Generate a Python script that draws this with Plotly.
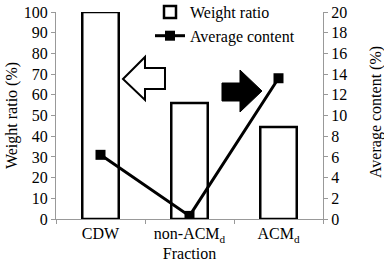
import plotly.graph_objects as go

categories = ["CDW", "non-ACM<sub>d</sub>", "ACM<sub>d</sub>"]
weight_ratio = [100, 56, 44.5]
average_content = [6.2, 0.3, 13.6]

FONT = "Liberation Serif, Times New Roman, serif"
FS = 16
W, H = 384, 264
L, R, T, B = 56, 61, 12, 45
PW, PH = W - L - R, H - T - B

def px(x, y):
    return (x - L) / PW, (H - B - y) / PH

def path(points):
    s = ""
    for i, (x, y) in enumerate(points):
        u, v = px(x, y)
        s += ("M" if i == 0 else "L") + f"{u:.4f},{v:.4f} "
    return s + "Z"

hollow = [(123, 79), (145, 57), (145, 68), (165, 68), (165, 89), (145, 89), (145, 100)]
solid = [(222, 83), (240, 83), (240, 70), (262, 91), (240, 112), (240, 101), (222, 101)]

fig = go.Figure()
fig.add_trace(go.Bar(
    x=categories, y=weight_ratio, name="Weight ratio", width=0.41,
    marker=dict(color="white", line=dict(color="black", width=2.5)),
    legendgroup="a",
))
fig.add_trace(go.Scatter(
    x=categories, y=average_content, name="Average content", yaxis="y2",
    mode="lines+markers", line=dict(color="black", width=3),
    marker=dict(symbol="square", size=10, color="black"),
    legendgroup="b",
))

axis_common = dict(showline=True, linecolor="#999999", linewidth=1, ticks="outside",
                   tickcolor="#999999", ticklen=4, showgrid=False, zeroline=False,
                   automargin=False,
                   tickfont=dict(family=FONT, size=FS, color="black"))

fig.update_layout(
    width=W, height=H, margin=dict(l=L, r=R, t=T, b=B, autoexpand=False),
    paper_bgcolor="white", plot_bgcolor="white",
    font=dict(family=FONT, size=FS, color="black"),
    xaxis=dict(axis_common, range=[-0.5, 2.5], tickson="boundaries",
               title=dict(text="Fraction", standoff=0, font=dict(family=FONT, size=FS))),
    yaxis=dict(axis_common, range=[0, 100], dtick=10,
               title=dict(text="Weight ratio (%)", standoff=2, font=dict(family=FONT, size=FS))),
    yaxis2=dict(axis_common, range=[0, 20], dtick=2, overlaying="y", side="right"),
    annotations=[
        dict(text="Average content (%)", xref="paper", yref="paper",
             x=px(376, 0)[0], y=px(0, 112)[1], textangle=-90, showarrow=False,
             xanchor="center", yanchor="middle", font=dict(family=FONT, size=FS)),
    ],
    showlegend=True,
    legend=dict(x=px(150, 0)[0], y=px(0, -5)[1], xanchor="left", yanchor="top",
                bgcolor="rgba(0,0,0,0)", traceorder="grouped", tracegroupgap=0,
                font=dict(family=FONT, size=FS)),
    shapes=[
        dict(type="path", xref="paper", yref="paper", path=path(hollow),
             fillcolor="white", line=dict(color="black", width=2)),
        dict(type="path", xref="paper", yref="paper", path=path(solid),
             fillcolor="black", line=dict(color="black", width=1)),
    ],
)

fig.write_html("out.html")
